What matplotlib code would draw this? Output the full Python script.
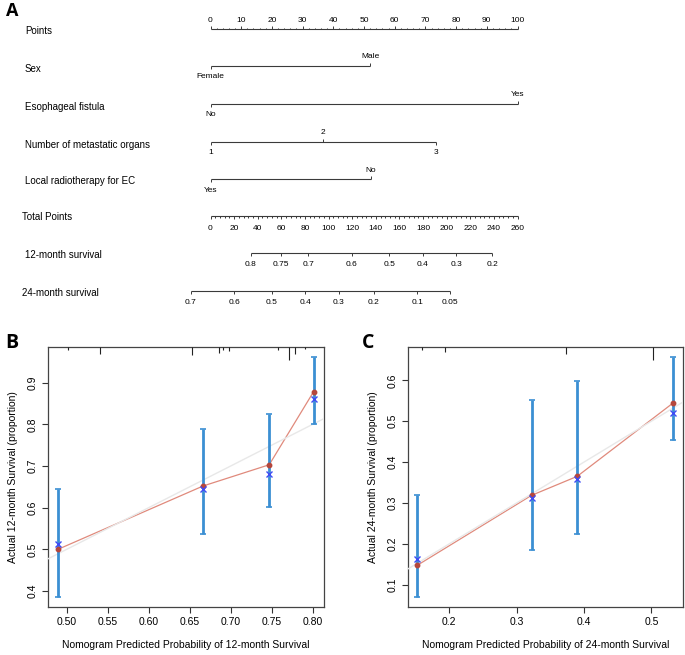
import matplotlib
matplotlib.use("Agg")
import matplotlib.pyplot as plt
import matplotlib.transforms as mtransforms

plt.rcParams['font.family'] = ['Liberation Sans', 'DejaVu Sans']

# ---------------- Data ----------------
points_ticks = list(range(0, 101, 10))
variables = [
    ("Sex", ["Female", "Male"], [0, 52.0]),
    ("Esophageal fistula", ["No", "Yes"], [0, 100.0]),
    ("Number of metastatic organs", ["1", "2", "3"], [0, 36.6, 73.4]),
    ("Local radiotherapy for EC", ["Yes", "No"], [0, 52.2]),
]
total_ticks = list(range(0, 261, 20))
total_max = 260
surv12_labels = ["0.8", "0.75", "0.7", "0.6", "0.5", "0.4", "0.3", "0.2"]
surv12_tp = [34.0, 59.9, 82.8, 119.8, 151.3, 179.7, 208.2, 238.5]
surv24_labels = ["0.7", "0.6", "0.5", "0.4", "0.3", "0.2", "0.1", "0.05"]
surv24_tp = [-16.6, 20.3, 51.8, 80.3, 108.7, 138.3, 175.3, 202.7]

b_pred = [0.4894, 0.6663, 0.747, 0.801]
b_obs = [0.500, 0.652, 0.703, 0.878]
b_corr = [0.513, 0.644, 0.682, 0.861]
b_lo = [0.386, 0.538, 0.602, 0.800]
b_hi = [0.646, 0.790, 0.824, 0.962]
b_rug_x = [0.502, 0.5406, 0.6534, 0.686, 0.691, 0.6985, 0.758, 0.7715, 0.778, 0.7906]
b_rug_h = [2.7, 6.7, 8.3, 6.0, 3.3, 4.3, 2.7, 13.3, 7.0, 1.7]

c_pred = [0.152, 0.3221, 0.3898, 0.5322]
c_obs = [0.147, 0.3186, 0.365, 0.5445]
c_corr = [0.163, 0.313, 0.358, 0.520]
c_lo = [0.0698, 0.1856, 0.2232, 0.4532]
c_hi = [0.3186, 0.5527, 0.5976, 0.657]
c_rug_x = [0.159, 0.1936, 0.374, 0.5025]
c_rug_h = [2.7, 5.0, 7.3, 13.3]

W, H = 685, 655
fig = plt.figure(figsize=(W / 100, H / 100), dpi=100)

# ---------------- Panel A: nomogram ----------------
px0, pxscale = 210.5, 3.07   # pixel of 0 points, pixels per point
axA = fig.add_axes([0, 0, 1, 1])
axA.set_xlim(-px0 / pxscale, (W - px0) / pxscale)
axA.set_ylim(H, 0)
axA.axis('off')

lc = '#3a3a3a'
lw = 0.8
fs_lab = 7
fs_tick = 6
tk = 3.0      # tick length in pixel (y) units
label_x = 25 / pxscale * 1.0 - px0 / pxscale

def tp2pts(v):
    return v * 100.0 / total_max

rows_y = [29, 66, 104, 142, 179, 216, 253, 291]

# Points axis
y = rows_y[0]
axA.text(label_x, y + 1.5, "Points", fontsize=fs_lab, va='center', ha='left')
axA.hlines(y, 0, 100, color=lc, lw=lw)
for p in range(0, 101, 2):
    length = tk if p % 10 == 0 else 1.5
    axA.vlines(p, y - length, y, color=lc, lw=0.7)
for p in points_ticks:
    axA.text(p, y - 9, str(p), fontsize=fs_tick, ha='center', va='center')

# Variable axes
for i, (name, levels, pts) in enumerate(variables):
    y = rows_y[i + 1]
    axA.text(label_x, y + 2.5, name, fontsize=fs_lab, va='center', ha='left')
    axA.hlines(y, min(pts), max(pts), color=lc, lw=lw)
    for j, (lev, p) in enumerate(zip(levels, pts)):
        if j % 2 == 0:
            axA.vlines(p, y, y + tk, color=lc, lw=0.7)
            axA.text(p, y + 11, lev, fontsize=fs_tick, ha='center', va='center')
        else:
            axA.vlines(p, y - tk, y, color=lc, lw=0.7)
            axA.text(p, y - 9, lev, fontsize=fs_tick, ha='center', va='center')

# Total points axis
y = rows_y[5]
axA.text(-px0 / pxscale + 22 / pxscale, y + 1.5, "Total Points", fontsize=fs_lab, va='center', ha='left')
axA.hlines(y, 0, tp2pts(total_max), color=lc, lw=lw)
for t in range(0, total_max + 1, 4):
    length = tk if t % 20 == 0 else 1.5
    axA.vlines(tp2pts(t), y, y + length, color=lc, lw=0.7)
for t in total_ticks:
    axA.text(tp2pts(t), y + 12, str(t), fontsize=fs_tick, ha='center', va='center')

# Survival axes
for y, name, labs, tps, lx in [(rows_y[6], "12-month survival", surv12_labels, surv12_tp, 25),
                               (rows_y[7], "24-month survival", surv24_labels, surv24_tp, 22)]:
    axA.text(-px0 / pxscale + lx / pxscale, y + 2.5, name, fontsize=fs_lab, va='center', ha='left')
    xs = [tp2pts(v) for v in tps]
    axA.hlines(y, min(xs), max(xs), color=lc, lw=lw)
    for xv, lab in zip(xs, labs):
        axA.vlines(xv, y, y + tk, color=lc, lw=0.7)
        axA.text(xv, y + 11.5, lab, fontsize=fs_tick, ha='center', va='center')

fig.text(6 / W, 1 - 11 / H, "A", fontsize=13, fontweight='bold', family='Open Sans',
         ha='left', va='center')

# ---------------- Panels B and C ----------------
bar_c = '#3b8fd3'
red_line = '#e08a7c'
red_dot = '#b5473d'
blue_x = '#3f4cf5'
ideal_c = '#e8e8e8'

def calib(ax, pred, obs, corr, lo, hi, rug_x, rug_h, xlim, ylim, xticks, yticks, xfmt,
          xlabel, ylabel, ax_h_px):
    ax.set_xlim(*xlim)
    ax.set_ylim(*ylim)
    ax.plot(pred, obs, color=red_line, lw=0.9, zorder=2)
    ax.plot([min(xlim[0], ylim[0]), max(xlim[1], ylim[1])],
            [min(xlim[0], ylim[0]), max(xlim[1], ylim[1])], color=ideal_c, lw=1.0, zorder=3)
    err_lo = [o - l for o, l in zip(obs, lo)]
    err_hi = [h - o for o, h in zip(obs, hi)]
    ax.errorbar(pred, obs, yerr=[err_lo, err_hi], fmt='none', ecolor=bar_c, elinewidth=2.0,
                capsize=2.2, capthick=1.2, zorder=4)
    ax.plot(pred, obs, 'o', color=red_dot, ms=3.2, zorder=5)
    ax.plot(pred, corr, 'x', color=blue_x, ms=4.5, mew=1.0, zorder=6)
    trans = mtransforms.blended_transform_factory(ax.transData, ax.transAxes)
    for xv, h in zip(rug_x, rug_h):
        ax.vlines(xv, 1 - h / ax_h_px, 1, color='#222222', lw=0.8, transform=trans, zorder=7)
    ax.set_xticks(xticks)
    ax.set_xticklabels([xfmt % v for v in xticks], fontsize=7.5)
    ax.set_yticks(yticks)
    ax.set_yticklabels(["%.1f" % v for v in yticks], fontsize=7.5, rotation=90, va='center')
    ax.tick_params(direction='out', length=4.5, width=0.8, color='#333333', pad=3)
    for s in ax.spines.values():
        s.set_color('#444444')
        s.set_linewidth(0.9)
    ax.set_xlabel(xlabel, fontsize=7.5, labelpad=9)
    ax.set_ylabel(ylabel, fontsize=7.5, labelpad=7)

axB = fig.add_axes([48 / W, 1 - 607 / H, 276 / W, 260 / H])
calib(axB, b_pred, b_obs, b_corr, b_lo, b_hi, b_rug_x, b_rug_h,
      (0.4772, 0.8138), (0.3616, 0.9856),
      [0.50, 0.55, 0.60, 0.65, 0.70, 0.75, 0.80], [0.4, 0.5, 0.6, 0.7, 0.8, 0.9], "%.2f",
      "Nomogram Predicted Probability of 12-month Survival",
      "Actual 12-month Survival (proportion)", 260)

axC = fig.add_axes([407.7 / W, 1 - 607 / H, 275.3 / W, 260 / H])
calib(axC, c_pred, c_obs, c_corr, c_lo, c_hi, c_rug_x, c_rug_h,
      (0.1382, 0.547), (0.0454, 0.6816),
      [0.2, 0.3, 0.4, 0.5], [0.1, 0.2, 0.3, 0.4, 0.5, 0.6], "%.1f",
      "Nomogram Predicted Probability of 24-month Survival",
      "Actual 24-month Survival (proportion)", 260)

fig.text(5 / W, 1 - 343 / H, "B", fontsize=14, fontweight='bold', family='Open Sans',
         ha='left', va='center')
fig.text(362 / W, 1 - 343 / H, "C", fontsize=14, fontweight='bold', family='Open Sans',
         ha='left', va='center')

fig.savefig("out.png", dpi=100)
